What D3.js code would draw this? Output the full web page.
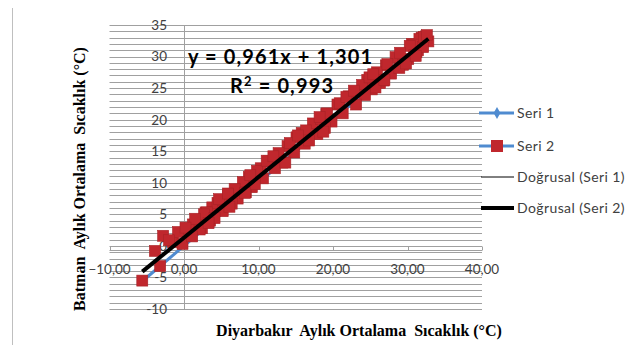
<!DOCTYPE html>
<html>
<head>
<meta charset="utf-8">
<script src="https://cdn.jsdelivr.net/npm/d3@7"></script>
<style>
  body { margin: 0; background: #fff; }
  svg { display: block; }
  .calib { font-family: Lato, "Open Sans", sans-serif; }
  .serif { font-family: "Liberation Serif", "DejaVu Serif", serif; font-weight: bold; white-space: pre; }
</style>
</head>
<body>
<div id="chart"></div>
<script>
// monthly mean temperatures, Diyarbakir (x) vs Batman (y)
var diyarbakir = [
  1.2, 3.5, 8.7, 13.9, 19.8, 27.1, 31.4, 30.6, 25.2, 17.3, 9.1, 3.8,
  -1.5, 2.4, 7.9, 14.8, 20.6, 26.3, 31.9, 31.2, 24.6, 16.2, 8.3, 2.9,
  -5.6, -0.2, 6.8, 12.7, 18.9, 27.8, 32.5, 30.1, 25.9, 18.4, 10.6, 4.5,
  -3.2, 1.8, 9.5, 15.1, 21.3, 28.4, 32.8, 31.6, 26.8, 15.8, 7.2, 2.1,
  -3.9, 0.6, 5.9, 13.2, 19.1, 25.7, 30.8, 29.4, 23.9, 17.9, 11.4, 5.2,
  -2.8, 3.1, 8.2, 16.4, 22.1, 26.9, 30.3, 32.1, 24.3, 19.2, 6.4, 1.1,
  -0.8, 2.7, 10.3, 12.2, 20.9, 28.9, 32.2, 30.9, 27.3, 16.8, 9.8, 4.1,
  -2.0, 1.5, 6.1, 14.2, 18.2, 24.9, 29.8, 29.0, 23.1, 15.3, 8.9, 3.3,
  0.2, 4.7, 11.1, 13.6, 21.8, 25.4, 31.1, 32.6, 22.8, 18.7, 12.0, 5.9
];
var batman = [
  3.4, 4.0, 10.9, 15.8, 19.7, 28.6, 31.0, 32.0, 24.8, 19.4, 9.3, 6.1,
  0.6, 2.8, 10.1, 14.8, 22.4, 25.8, 33.0, 30.7, 26.3, 16.2, 8.5, 5.3,
  -5.5, 0.3, 9.0, 14.7, 18.7, 27.3, 33.2, 29.6, 27.5, 20.1, 10.7, 6.8,
  -3.2, 4.0, 9.8, 17.2, 21.0, 29.9, 32.4, 32.8, 26.2, 17.9, 7.5, 2.6,
  -0.8, 2.6, 8.0, 13.2, 20.9, 25.1, 31.9, 28.7, 25.5, 17.7, 13.4, 5.5,
  1.6, 5.3, 8.4, 18.3, 23.7, 26.3, 31.7, 31.5, 23.9, 21.0, 6.7, 1.5,
  2.2, 5.0, 12.3, 12.3, 22.6, 28.2, 33.1, 30.2, 28.8, 16.7, 11.9, 4.4,
  0.9, 4.3, 6.2, 16.3, 20.4, 26.7, 28.9, 30.6, 22.4, 17.5, 11.2, 3.6,
  2.9, 7.4, 13.5, 13.2, 23.6, 27.2, 30.1, 33.4, 24.6, 18.1, 14.2, 8.3
];

var xTicks = [-10, 0, 10, 20, 30, 40];
var yTicks = [-10, -5, 0, 5, 10, 15, 20, 25, 30, 35];

var trendSlope = 0.961;
var trendIntercept = 1.301;

var legendItems = ["Seri 1", "Seri 2", "Doğrusal (Seri 1)", "Doğrusal (Seri 2)"];

var width = 631, height = 345;
var blue = "#4f8bd0", red = "#c0272d", grid = "#a0a0a0";

var svg = d3.select("#chart").append("svg")
  .attr("width", width)
  .attr("height", height);

var x = d3.scaleLinear().domain([-10, 40]).range([109.5, 482]);
var y = d3.scaleLinear().domain([-10, 35]).range([309, 25]);

// chart frame (left edge only visible)
svg.append("line")
  .attr("x1", 12.5).attr("x2", 12.5)
  .attr("y1", 8).attr("y2", height)
  .attr("stroke", "#bfbfbf");

// horizontal gridlines every 1 unit
svg.append("g")
  .selectAll("line")
  .data(d3.range(-10, 36))
  .join("line")
  .attr("x1", x(-10)).attr("x2", x(40))
  .attr("y1", d => Math.round(y(d)) + 0.5)
  .attr("y2", d => Math.round(y(d)) + 0.5)
  .attr("stroke", grid);

// x axis (box-style line with ticks)
var y0 = Math.round(y(0)) + 0.5;
svg.append("line").attr("x1", x(-10)).attr("x2", x(40))
  .attr("y1", y0 + 4).attr("y2", y0 + 4).attr("stroke", grid);
svg.append("g")
  .selectAll("line")
  .data(xTicks)
  .join("line")
  .attr("x1", d => Math.round(x(d)) + 0.5).attr("x2", d => Math.round(x(d)) + 0.5)
  .attr("y1", y0).attr("y2", y0 + 4)
  .attr("stroke", grid);

// y axis
svg.append("line")
  .attr("x1", Math.round(x(0)) + 0.5).attr("x2", Math.round(x(0)) + 0.5)
  .attr("y1", y(35)).attr("y2", y(-10))
  .attr("stroke", grid);

// tick labels
svg.append("g")
  .selectAll("text")
  .data(yTicks)
  .join("text")
  .attr("class", "calib")
  .attr("x", 167)
  .attr("y", d => y(d))
  .attr("dy", "0.36em")
  .attr("text-anchor", "end")
  .style("font-size", "13.5px")
  .attr("fill", "#404040")
  .text(d => d);

svg.append("g")
  .selectAll("text")
  .data(xTicks)
  .join("text")
  .attr("class", "calib")
  .attr("x", d => x(d))
  .attr("y", 274)
  .attr("text-anchor", "middle")
  .style("font-size", "13.5px")
  .attr("fill", "#404040")
  .text(d => d3.format(".2f")(d).replace(".", ","));

// Seri 1: line through (x, x)
var s1 = diyarbakir.map(d => [d, d]).sort((a, b) => a[0] - b[0]);
svg.append("path")
  .datum(s1)
  .attr("fill", "none")
  .attr("stroke", blue)
  .attr("stroke-width", 3)
  .attr("d", d3.line().x(d => x(d[0])).y(d => y(d[1])));

// Seri 2: red squares
var sq = 11;
svg.append("g")
  .selectAll("rect")
  .data(diyarbakir.map((d, i) => [d, batman[i]]))
  .join("rect")
  .attr("x", d => x(d[0]) - sq / 2)
  .attr("y", d => y(d[1]) - sq / 2)
  .attr("width", sq).attr("height", sq)
  .attr("fill", red)
  .attr("stroke", "#a82226")
  .attr("stroke-width", 0.6);

// linear trend of Seri 2
var xMin = d3.min(diyarbakir), xMax = d3.max(diyarbakir);
svg.append("line")
  .attr("x1", x(xMin)).attr("y1", y(trendSlope * xMin + trendIntercept))
  .attr("x2", x(xMax)).attr("y2", y(trendSlope * xMax + trendIntercept))
  .attr("stroke", "#000")
  .attr("stroke-width", 4);

// equation
svg.append("text")
  .attr("class", "calib")
  .attr("x", 188).attr("y", 64)
  .attr("textLength", 184).attr("lengthAdjust", "spacing")
  .style("font-size", "20px").style("font-weight", "bold")
  .attr("fill", "#000")
  .text("y = 0,961x + 1,301");
var r2 = svg.append("text")
  .attr("class", "calib")
  .attr("x", 230).attr("y", 93)
  .attr("textLength", 103).attr("lengthAdjust", "spacing")
  .style("font-size", "20px").style("font-weight", "bold")
  .attr("fill", "#000");
r2.append("tspan").text("R");
r2.append("tspan").attr("dy", -7).style("font-size", "13px").text("2");
r2.append("tspan").attr("dy", 7).text(" = 0,993");

// axis titles
svg.append("text")
  .attr("class", "serif")
  .attr("x", 359).attr("y", 336)
  .attr("text-anchor", "middle")
  .style("font-size", "16px")
  .text("Diyarbakır  Aylık Ortalama  Sıcaklık (°C)");

svg.append("text")
  .attr("class", "serif")
  .attr("transform", "translate(85,179) rotate(-90)")
  .attr("text-anchor", "middle")
  .style("font-size", "16px")
  .text("Batman  Aylık Ortalama  Sıcaklık (°C)");

// legend
var legY = [113, 146, 177, 208];
var leg = svg.append("g").attr("class", "calib");
legendItems.forEach(function(name, i) {
  var ly = legY[i];
  if (i < 2) {
    leg.append("line").attr("x1", 479).attr("x2", 514).attr("y1", ly).attr("y2", ly)
      .attr("stroke", blue).attr("stroke-width", 3);
  } else {
    leg.append("line").attr("x1", 481).attr("x2", 514).attr("y1", ly).attr("y2", ly)
      .attr("stroke", "#000").attr("stroke-width", i === 2 ? 1 : 4);
  }
  if (i === 0) {
    leg.append("path")
      .attr("d", d3.symbol().type(d3.symbolDiamond).size(40)())
      .attr("transform", "translate(497," + ly + ")")
      .attr("fill", blue);
  }
  if (i === 1) {
    leg.append("rect").attr("x", 491).attr("y", ly - 6).attr("width", 12).attr("height", 12)
      .attr("fill", red);
  }
  leg.append("text")
    .attr("x", 517).attr("y", ly).attr("dy", "0.36em")
    .style("font-size", "14px")
    .style("letter-spacing", "0.4px")
    .attr("fill", "#404040")
    .text(name);
});
</script>
</body>
</html>
